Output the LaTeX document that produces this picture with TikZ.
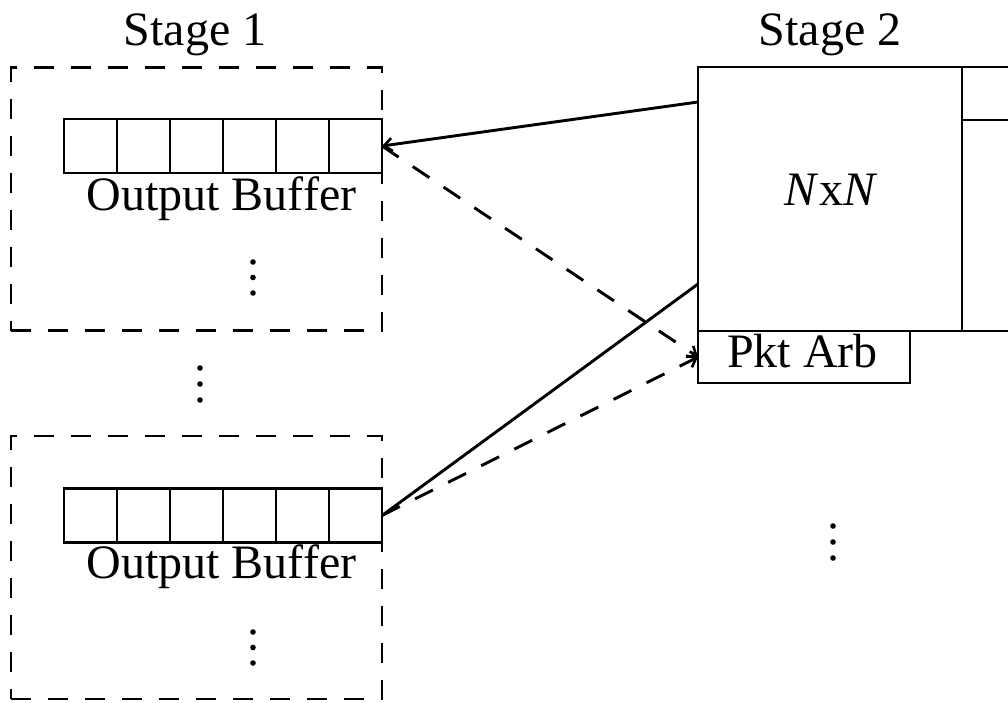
\documentclass[tikz,border=0pt]{standalone}
\usepackage{fontspec}
\setmainfont{Liberation Serif}
\usetikzlibrary{arrows.meta}
\begin{document}
\begin{tikzpicture}[x=1pt,y=-1pt,
  every node/.style={font=\fontsize{48}{52}\selectfont, inner sep=0pt, outer sep=0pt},
  ln/.style={line width=2.9pt},
  dsh/.style={line width=2.9pt, dash pattern=on 20pt off 17pt},
  stagebox/.style={draw, dsh, minimum width=371pt, minimum height=263pt},
  cell/.style={draw, ln, minimum width=53pt, minimum height=54pt},
  plain/.style={draw, ln},
  lbl/.style={anchor=base},
  tip/.style={-{Straight Barb[length=8pt,width=13pt,line width=2.6pt]}}
]
\clip (0,0) rectangle (1008,702);
% stage boxes
\node[stagebox] (s1a) at (196.5,199) {};
\node[stagebox] (s1b) at (196.5,567.5) {};
\node[lbl] (st1) at (195,45) {Stage 1};
\node[lbl] (st2) at (830,45) {Stage 2};
% buffers
\foreach \i in {1,...,6}{
  \node[cell] (a\i) at ({64+26.5+53*(\i-1)},146) {};
  \node[cell] (b\i) at ({64+26.5+53*(\i-1)},515.5) {};
}
\node[lbl] (oba) at (221.5,210) {Output Buffer};
\node[lbl] (obb) at (221.5,578) {Output Buffer};
% dots
\foreach \y in {262,277.5,293}{\fill (253,\y) circle (2.8);}
\foreach \y in {632,647.5,663}{\fill (253,\y) circle (2.8);}
\foreach \y in {368,384,400}{\fill (200,\y) circle (2.8);}
\foreach \y in {526,542,558}{\fill (833,\y) circle (2.8);}
% stage 2
\node[plain, minimum width=264pt, minimum height=264pt] (nxn) at (830,199) {};
\node[lbl] (nxnt) at (831,205) {\textit{N}x\textit{N}};
\node[plain, minimum width=120pt, minimum height=264pt, anchor=north west] (nb) at (962,67) {};
\node[plain, minimum width=120pt, minimum height=53pt, anchor=north west] (nbt) at (962,67) {};
\node[plain, minimum width=212pt, minimum height=52pt, anchor=north west] (arb) at (698,331) {};
\node[lbl] (arbt) at (802.5,367) {Pkt Arb};
% connectors
\coordinate (n1) at (698,102);
\coordinate (n2) at (698,284);
\coordinate (p1) at (arb.west);
\draw[ln, tip] (n1) -- (a6.east);
\draw[dsh, tip] (a6.east) -- (p1);
\draw[ln] (b6.east) -- (n2);
\draw[dsh, tip] (b6.east) -- (p1);
\end{tikzpicture}
\end{document}
